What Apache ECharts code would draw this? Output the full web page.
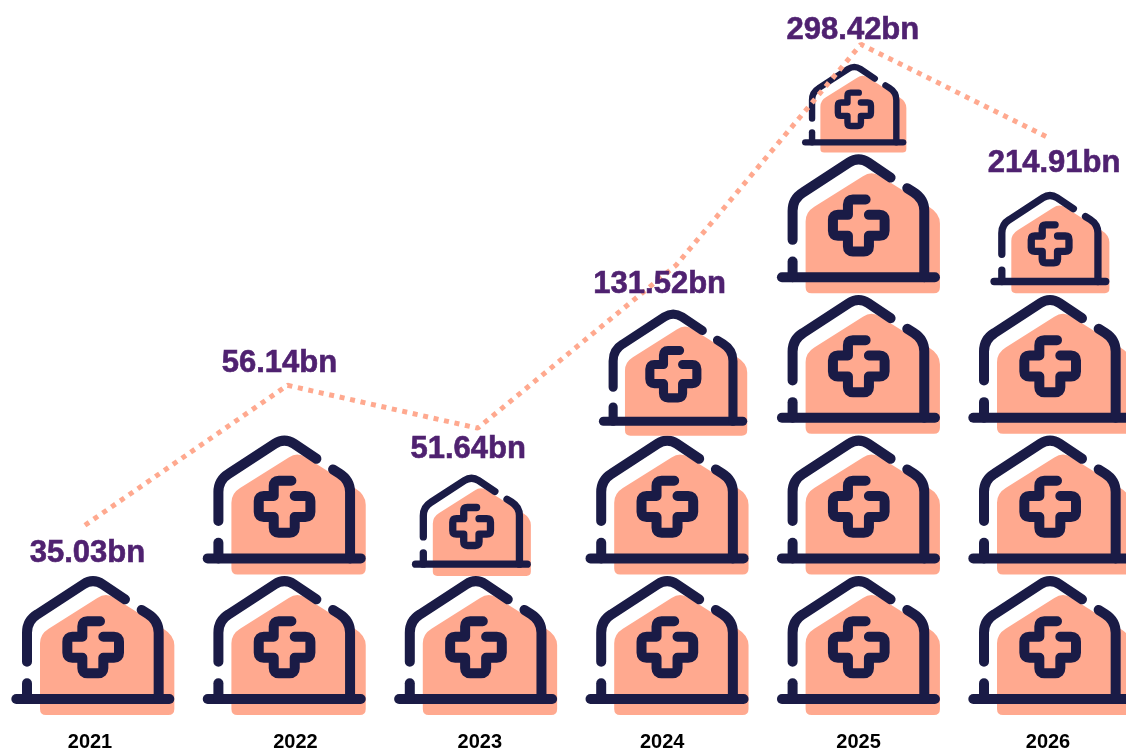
<!DOCTYPE html>
<html><head><meta charset="utf-8">
<style>html,body{margin:0;padding:0;background:#fff}#c{width:1126px;height:749px}</style>
<script src="https://cdn.jsdelivr.net/npm/echarts@6/dist/echarts.min.js"></script>
</head><body><div id="c"></div>
<script>
// ---- data ----
const years = ['2021','2022','2023','2024','2025','2026'];
const valueLabels = ['35.03bn','56.14bn','51.64bn','131.52bn','298.42bn','214.91bn'];
// whole icons stacked in each column
const fullIcons = [1,2,1,2,4,3];
// the smaller icon on top of each column (fraction of a full icon)
const topIconScale = [0,0,0.73,0.91,0.64,0.73];
// dotted trend line, read in icon-rows above the baseline
const trendX = [-0.042,0.016,0.010,0.047,0.012,0];
const trendLevel = [1.35,2.345,2.04,3.20,4.77,4.10];

// ---- layout ----
const BAND = 191.4;
const yearShift = [-3,11,4,-5,0,-2];
const labelShift = [[2.5,28],[-8,-22],[-9.5,21],[-16.5,19],[-8,-14],[4,25]];
const topShift = [0,0,[-4.3,1.5],[6,2],[-4.3,0],[0,0]];
const PEACH = '#FFA98F', NAVY = '#1A1B46', PURPLE = '#4F2170';

const bgPath = 'M120 250 Q120 222 146 206 L292 114 Q318 96 344 114 L490 206 Q523 226 523 256 L523 447 Q523 465 505 465 L138 465 Q120 465 120 447 Z';
const strokePaths = [
  'M49 417 L508 417',
  'M81 370 L81 417',
  'M81 305 L81 218 Q81 182 112 163 L250 73 Q279 54 308 73 L375 118',
  'M425 150 L444 162 Q476 182 476 218 L476 417',
  'M300 184 L262 184 Q247 184 247 199 L247 230 L217 230 Q202 230 202 245 L202 278 Q202 293 217 293 L247 293 L247 325 Q247 340 262 340 L295 340 Q310 340 310 325 L310 293 L342 293 Q357 293 357 278 L357 245 Q357 230 342 230 L310 230'
];
function iconEl(x, y, s) {
  const kids = [{type:'path', x:-279, y:-465, shape:{pathData:bgPath}, style:{fill:PEACH}}];
  strokePaths.forEach(function (d) {
    kids.push({type:'path', x:-279, y:-465, shape:{pathData:d},
      style:{fill:'none', stroke:NAVY, lineWidth:30, lineCap:'round', lineJoin:'round'}});
  });
  return {type:'group', x:x, y:y, scaleX:s/3, scaleY:s/3, children:kids};
}
function renderColumn(params, api) {
  const i = api.value(0);
  const kids = [];
  for (let k = 0; k < fullIcons[i]; k++) {
    const p = api.coord([i, k]);
    kids.push(iconEl(p[0], p[1], 1));
  }
  if (topIconScale[i] > 0) {
    const p = api.coord([i, fullIcons[i]]);
    const s = topShift[i];
    kids.push(iconEl(p[0] + s[0], p[1] + s[1], topIconScale[i]));
  }
  return {type:'group', children:kids};
}
const option = {
  animation:false,
  backgroundColor:'#fff',
  grid:{left:-2.7, top:12, width:BAND*6, bottom:34, containLabel:false, outerBoundsMode:'none'},
  xAxis:[{
    type:'category', data:years,
    axisLine:{show:false}, axisTick:{show:false},
    axisLabel:{
      interval:0, margin:17, hideOverlap:false,
      formatter:function (v, i) { return '{y' + i + '|' + v + '}'; },
      rich:(function () {
        const r = {};
        yearShift.forEach(function (d, i) {
          r['y' + i] = {fontFamily:'Liberation Sans', fontWeight:'bold', fontSize:20, color:'#000',
            padding:d >= 0 ? [0,0,0,2*d] : [0,-2*d,0,0]};
        });
        return r;
      })()
    }
  },{
    type:'value', min:-0.5, max:5.5, show:false
  }],
  yAxis:{type:'value', min:0, max:5, show:false, splitLine:{show:false}},
  series:[{
    type:'custom', xAxisIndex:0, z:2, silent:true,
    renderItem:renderColumn,
    data:years.map(function (y, i) { return [i, fullIcons[i] + topIconScale[i]]; })
  },{
    type:'line', xAxisIndex:1, z:5, silent:true,
    showSymbol:true, symbol:'circle', symbolSize:1,
    itemStyle:{color:'rgba(0,0,0,0)'},
    lineStyle:{color:PEACH, width:5, type:[5,5.7], cap:'butt'},
    data:years.map(function (y, i) {
      return {value:[i + trendX[i], trendLevel[i]],
        label:{show:true, position:'inside', offset:labelShift[i], formatter:valueLabels[i],
          fontFamily:'Liberation Sans', fontWeight:'bold', fontSize:31, color:PURPLE,
          textBorderColor:PURPLE, textBorderWidth:0.6}};
    })
  }]
};
echarts.init(document.getElementById('c'), null, {renderer:'canvas'}).setOption(option);
</script></body></html>
